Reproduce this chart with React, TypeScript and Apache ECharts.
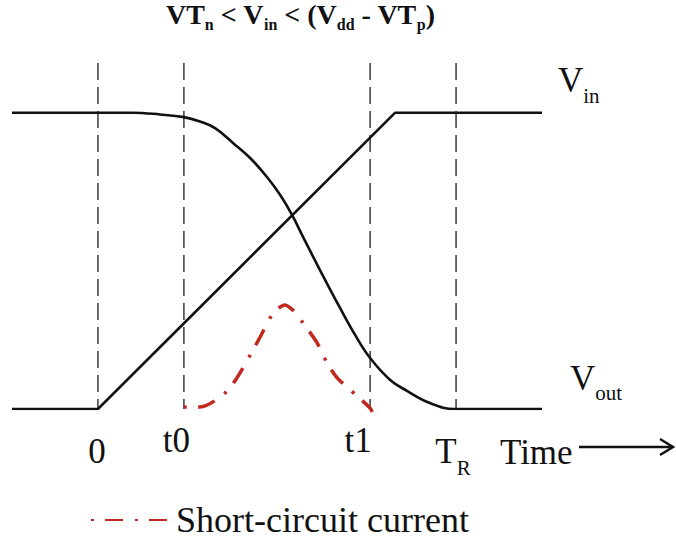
import React, { useEffect, useRef } from 'react';
import * as echarts from 'echarts';

// time axis (arbitrary units, T_R = 10) and normalized voltage (Vdd = 1)
const timeRange = [-2.4, 12.4];
const voltRange = [0, 1.25];

const markerTimes = [0, 2.4, 7.6, 10];
const markerLabels = ['0', 't0', 't1', 'T_R'];
const markerTop = 1.168;

const vinTime = [-2.4, 0, 8.3, 12.4];
const vinVolt = [0, 0, 1, 1];

const voutTime = [-2.4, 0.98, 1.73, 2.4, 2.85, 3.27, 3.77, 4.25, 4.72, 5.09, 5.42, 5.73, 6.2, 6.76, 7.18, 7.6, 8.16, 8.63, 9.27, 9.96, 12.4];
const voutVolt = [1, 1, 0.994, 0.985, 0.97, 0.948, 0.898, 0.847, 0.783, 0.722, 0.655, 0.58, 0.469, 0.341, 0.25, 0.172, 0.098, 0.061, 0.02, 0, 0];

const iscTime = [2.4, 2.85, 3.55, 3.88, 4.25, 4.53, 4.86, 5.22, 5.5, 5.73, 6.12, 6.4, 6.68, 6.96, 7.27, 7.6, 7.66];
const iscVal = [0.007, 0.007, 0.054, 0.105, 0.182, 0.243, 0.317, 0.351, 0.327, 0.29, 0.223, 0.155, 0.105, 0.074, 0.04, 0.003, -0.01];

const titleText = 'VT_n < V_in < (V_dd - VT_p)';
const vinLabel = 'V_in';
const voutLabel = 'V_out';
const timeLabel = 'Time';

const serifName = 'Liberation Serif';
const serif = '"Liberation Serif", "DejaVu Serif", serif';
const black = '#111111';
const red = '#c2281e';

const zip = (a: number[], b: number[]) => a.map((v, i) => [v, b[i]]);

// label layout (pixel offsets only)
const labelDx = [-1, -7.5, -12, -3];
const labelBaseline = [466, 455, 455, 466];

// split "A_b < C_d" into [text, isSub] pieces: the part after "_" (letters/digits) is subscript
function parsePieces(s: string): [string, boolean][] {
  const out: [string, boolean][] = [];
  let i = 0;
  let cur = '';
  while (i < s.length) {
    if (s[i] === '_') {
      if (cur) out.push([cur, false]);
      cur = '';
      i++;
      let sub = '';
      while (i < s.length && /[A-Za-z0-9]/.test(s[i])) sub += s[i++];
      out.push([sub, true]);
    } else {
      cur += s[i++];
    }
  }
  if (cur) out.push([cur, false]);
  return out;
}

let measureCtx: CanvasRenderingContext2D | null = null;
function textWidth(t: string, size: number, bold: boolean) {
  if (!measureCtx) measureCtx = document.createElement('canvas').getContext('2d');
  measureCtx!.font = `${bold ? 'bold ' : ''}${size}px "${serifName}"`;
  return measureCtx!.measureText(t).width;
}

function layoutText(
  s: string,
  x: number,
  baseline: number,
  align: 'left' | 'center',
  mainSize: number,
  subSize: number,
  drop: number,
  bold = false
) {
  const pieces = parsePieces(s);
  const widths = pieces.map(([t, sub]) => textWidth(t, sub ? subSize : mainSize, bold));
  const total = widths.reduce((a, b) => a + b, 0);
  let cx = align === 'center' ? x - total / 2 : x;
  return pieces.map(([t, sub], i) => {
    const size = sub ? subSize : mainSize;
    const el = {
      type: 'text',
      x: cx,
      y: baseline + (sub ? drop : 0) - 0.41 * size,
      style: {
        text: t,
        fontSize: size,
        lineHeight: Math.round(size * 0.9),
        fontFamily: serif,
        fontWeight: bold ? 'bold' : 'normal',
        fill: black,
        align: 'left',
        verticalAlign: 'middle',
      },
    };
    cx += widths[i];
    return el;
  });
}

export default function App() {
  const ref = useRef<HTMLDivElement>(null);
  useEffect(() => {
    if (!ref.current) return;
    const chart = echarts.init(ref.current, undefined, { renderer: 'svg' });
    const markerSeries = markerTimes.map((t, i) => ({
      name: 'marker' + i,
      type: 'line',
      data: [[t, markerTop], [t, 0]],
      symbol: 'none',
      silent: true,
      lineStyle: { color: '#444444', width: 1.6, type: [17, 7] },
      z: 1,
    }));
    chart.setOption({
      animation: false,
      backgroundColor: '#ffffff',
      grid: { left: 12, right: 134, top: 38.6, bottom: 133, containLabel: false },
      xAxis: { type: 'value', min: timeRange[0], max: timeRange[1], show: false },
      yAxis: { type: 'value', min: voltRange[0], max: voltRange[1], show: false },
      legend: {
        data: ['Short-circuit current'],
        left: 85,
        top: 497,
        itemWidth: 80,
        itemHeight: 20,
        itemStyle: { opacity: 0 },
        textStyle: { fontFamily: serif, fontSize: 36, color: black },
      },
      series: [
        ...markerSeries,
        {
          name: 'Vin',
          type: 'line',
          data: zip(vinTime, vinVolt),
          symbol: 'none',
          lineStyle: { color: black, width: 2.6 },
          z: 3,
        },
        {
          name: 'Vout',
          type: 'line',
          data: zip(voutTime, voutVolt),
          symbol: 'none',
          smooth: 0.4,
          lineStyle: { color: black, width: 2.6 },
          z: 3,
        },
        {
          name: 'Short-circuit current',
          type: 'line',
          data: zip(iscTime, iscVal),
          symbol: 'none',
          smooth: 0.3,
          clip: false,
          itemStyle: { color: red },
          lineStyle: { color: red, width: 3.5, type: [3, 11, 18, 12] },
          z: 4,
        },
      ],
    });

    const tickGraphics = markerTimes.flatMap((t, i) => {
      const px = chart.convertToPixel({ xAxisIndex: 0 }, t) as number;
      return layoutText(markerLabels[i], px + labelDx[i], labelBaseline[i], 'center', 35, 21, 11);
    });

    chart.setOption({
      graphic: [
        ...layoutText(titleText, 300.5, 26, 'center', 28, 16, 5, true),
        ...layoutText(vinLabel, 558, 95, 'left', 35, 21, 10),
        ...layoutText(voutLabel, 570, 393, 'left', 35, 21, 9),
        ...layoutText(timeLabel, 500, 467, 'left', 35, 21, 0),
        {
          type: 'line',
          shape: { x1: 579, y1: 447, x2: 672, y2: 447 },
          style: { stroke: black, lineWidth: 2.5 },
        },
        {
          type: 'polyline',
          shape: { points: [[660, 439], [673, 447], [660, 455]] },
          style: { stroke: black, lineWidth: 2.5, fill: null },
        },
        ...tickGraphics,
      ],
    });
    return () => chart.dispose();
  }, []);
  return <div ref={ref} style={{ width: 676, height: 542, position: 'absolute', left: 0, top: 0 }} />;
}
